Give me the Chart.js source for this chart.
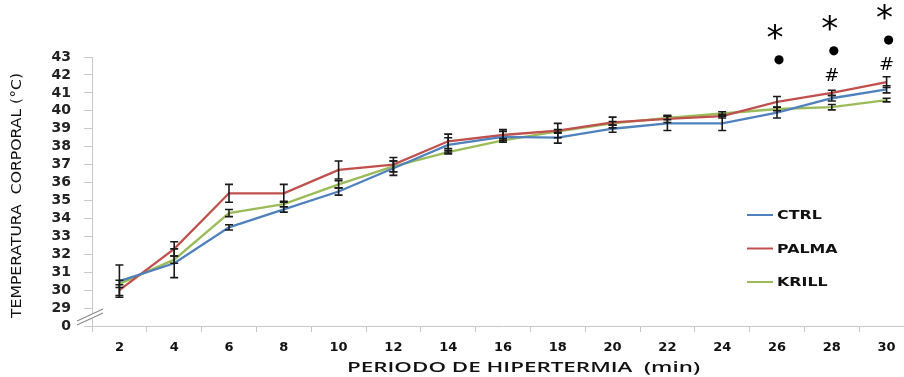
<!DOCTYPE html>
<html>
<head>
<meta charset="utf-8">
<script src="https://cdn.jsdelivr.net/npm/chart.js@4/dist/chart.umd.min.js"></script>
<style>
  html, body { margin: 0; padding: 0; background: #fff; overflow: hidden; }
  #wrap { width: 914px; height: 377px; }
</style>
</head>
<body>
<div id="wrap"><canvas id="grafico"></canvas></div>
<script>
const minutos = ['2','4','6','8','10','12','14','16','18','20','22','24','26','28','30']

const ctrl  = [30.5, 31.5, 33.5, 34.5, 35.5, 36.8, 38.1, 38.55, 38.5, 39.0, 39.3, 39.3, 39.9, 40.7, 41.2]
const palma = [30.0, 32.3, 35.4, 35.4, 36.7, 37.0, 38.3, 38.65, 38.9, 39.35, 39.55, 39.7, 40.5, 41.0, 41.6]
const krill = [30.35, 31.7, 34.3, 34.8, 35.9, 36.9, 37.7, 38.35, 38.85, 39.3, 39.6, 39.85, 40.1, 40.2, 40.6]

// error estandar (aprox.)
const errCtrl  = [0.9, 0.8, 0.15, 0.15, 0.2, 0.4, 0.4, 0.3, 0.3, 0.2, 0.4, 0.4, 0.3, 0.15, 0.2]
const errPalma = [0.3, 0.4, 0.5, 0.5, 0.5, 0.4, 0.4, 0.3, 0.4, 0.3, 0.2, 0.1, 0.3, 0.15, 0.3]
const errKrill = [0.2, 0.2, 0.2, 0.15, 0.2, 0.3, 0.1, 0.1, 0.1, 0.1, 0.1, 0.1, 0.1, 0.15, 0.1]

// marcas de significancia por minuto
const asterisco = ['26', '28', '30']
const punto     = ['26', '28', '30']
const numeral   = ['28', '30']

const tituloX = 'PERIODO DE HIPERTERMIA  (min)'
const tituloY = 'TEMPERATURA  CORPORAL (°C)'

const fuente = '"DejaVu Sans", sans-serif'

// texto estirado a un ancho dado (el original esta ensanchado)
const textoAncho = (ctx, txt, x, y, ancho) => {
    const w = ctx.measureText(txt).width
    ctx.save()
    ctx.translate(x, y)
    ctx.scale(ancho / w, 1)
    ctx.fillText(txt, 0, 0)
    ctx.restore()
}

const barrasError = {
    id: 'barrasError',
    afterDatasetsDraw(chart) {
        const ctx = chart.ctx
        const x = chart.scales.x, y = chart.scales.y
        ctx.save()
        ctx.strokeStyle = '#1a1a1a'
        ctx.lineWidth = 1.6
        chart.data.datasets.forEach(ds => {
            ds.data.forEach((v, i) => {
                const e = ds.errores[i]
                const px = x.getPixelForValue(i)
                const top = y.getPixelForValue(v + e)
                const bot = y.getPixelForValue(v - e)
                ctx.beginPath()
                ctx.moveTo(px, top); ctx.lineTo(px, bot)
                ctx.moveTo(px - 4, top); ctx.lineTo(px + 4, top)
                ctx.moveTo(px - 4, bot); ctx.lineTo(px + 4, bot)
                ctx.stroke()
            })
        })
        ctx.restore()
    }
}

const extras = {
    id: 'extras',
    afterDraw(chart) {
        const ctx = chart.ctx
        const x = chart.scales.x, y = chart.scales.y
        ctx.save()
        // corte del eje
        ctx.strokeStyle = '#fff'
        ctx.lineWidth = 5
        ctx.beginPath()
        ctx.moveTo(78, 323); ctx.lineTo(104, 310)
        ctx.stroke()
        ctx.strokeStyle = '#8a8a8a'
        ctx.lineWidth = 1.2
        ctx.beginPath()
        ctx.moveTo(77, 325); ctx.lineTo(103, 313)
        ctx.moveTo(77, 321); ctx.lineTo(103, 309)
        ctx.stroke()

        // significancia
        ctx.fillStyle = '#000'
        ctx.textAlign = 'center'
        ctx.textBaseline = 'middle'
        const idx = m => minutos.indexOf(m)
        asterisco.forEach(m => {
            const i = idx(m)
            ctx.font = '34px ' + fuente
            ctx.fillText('*', x.getPixelForValue(i) - 2 - i % 2 * 0, y.getPixelForValue(palma[i]) - 62)
        })
        punto.forEach(m => {
            const i = idx(m)
            ctx.beginPath()
            ctx.arc(x.getPixelForValue(i) + 2, y.getPixelForValue(palma[i]) - 42, 4.6, 0, Math.PI * 2)
            ctx.fill()
        })
        numeral.forEach(m => {
            const i = idx(m)
            ctx.font = '18px ' + fuente
            ctx.fillText('#', x.getPixelForValue(i), y.getPixelForValue(palma[i]) - 17)
        })

        // titulos
        ctx.fillStyle = '#111'
        ctx.textAlign = 'left'
        ctx.font = '600 14px "Open Sans", sans-serif'
        textoAncho(ctx, tituloX, 347, 368, 353)
        ctx.font = '14px ' + fuente
        ctx.save()
        ctx.translate(17, 318)
        ctx.rotate(-Math.PI / 2)
        textoAncho(ctx, tituloY, 0, 0, 245)
        ctx.restore()

        // leyenda
        ctx.font = 'bold 13px ' + fuente
        chart.data.datasets.forEach((ds, k) => {
            const ly = 215 + k * 33.5
            ctx.strokeStyle = ds.borderColor
            ctx.lineWidth = 2
            ctx.beginPath()
            ctx.moveTo(747, ly); ctx.lineTo(773, ly)
            ctx.stroke()
            ctx.fillStyle = '#111'
            const w = ctx.measureText(ds.label).width
            textoAncho(ctx, ds.label, 777, ly + 1, w * 1.22)
        })
        ctx.restore()
    }
}

const grafico = new Chart(document.getElementById('grafico'), {
    type: 'line',
    data: {
        labels: minutos,
        datasets: [
            { label: 'CTRL', data: ctrl, errores: errCtrl, borderColor: '#4f81bd' },
            { label: 'PALMA', data: palma, errores: errPalma, borderColor: '#c0504d' },
            { label: 'KRILL', data: krill, errores: errKrill, borderColor: '#9bbb59' }
        ]
    },
    options: {
        responsive: true,
        maintainAspectRatio: false,
        animation: false,
        layout: { padding: { top: 57, right: 0, left: 0, bottom: 0 } },
        elements: {
            line: { borderWidth: 2.3, tension: 0 },
            point: { radius: 0, hoverRadius: 0 }
        },
        plugins: {
            legend: { display: false },
            tooltip: { enabled: false }
        },
        scales: {
            x: {
                offset: true,
                grid: { offset: true, drawOnChartArea: false, color: '#c8c8c8', tickLength: 6 },
                border: { color: '#c8c8c8' },
                ticks: { color: '#111', font: { family: fuente, size: 13, weight: 'bold' }, padding: 8, maxRotation: 0, autoSkip: false },
                afterFit(s) { s.height = 51 }
            },
            y: {
                min: 28, max: 43,
                grid: { drawOnChartArea: false, color: '#c8c8c8', tickLength: 8 },
                border: { color: '#c8c8c8' },
                ticks: {
                    stepSize: 1, color: '#222', padding: 13, autoSkip: false,
                    font: { family: fuente, size: 14, weight: 'bold' },
                    callback: v => v === 28 ? '0' : v
                },
                afterFit(s) { s.width = 92 }
            }
        }
    },
    plugins: [barrasError, extras]
})
</script>
</body>
</html>
